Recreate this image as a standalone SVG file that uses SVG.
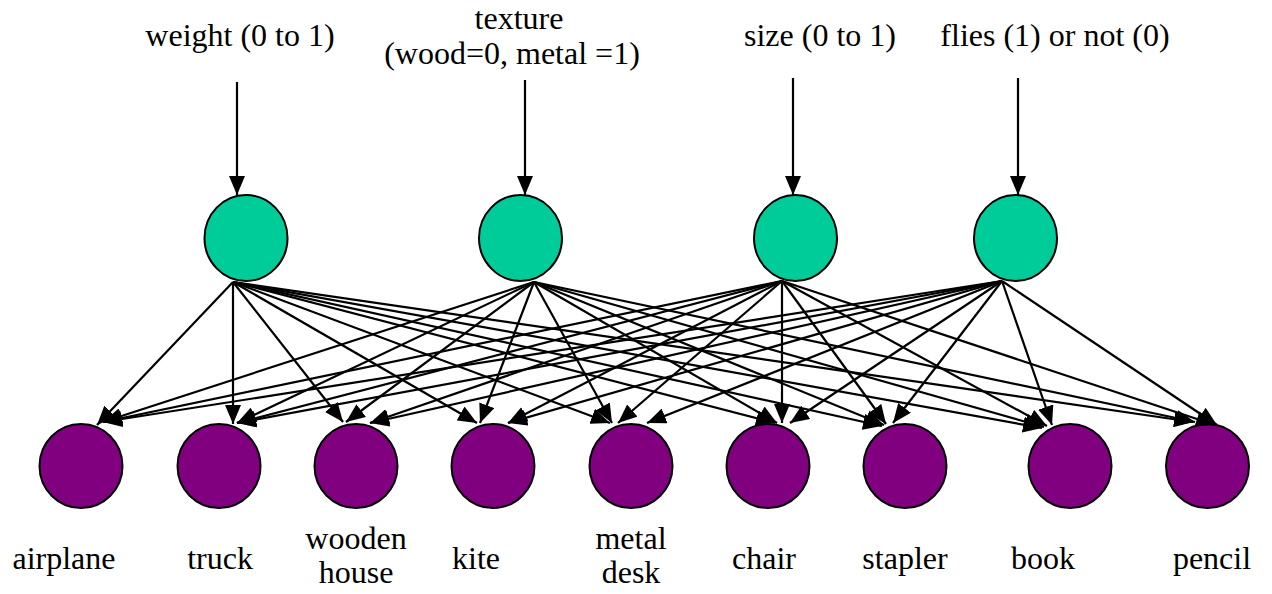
<svg xmlns="http://www.w3.org/2000/svg" width="1272" height="594" viewBox="0 0 1272 594">
<style>
.lbl{font-family:"Liberation Serif","Times New Roman",serif;font-size:32px;fill:#000;text-anchor:middle}
.in{fill:#00CC99;stroke:#000;stroke-width:2}
.out{fill:#800080;stroke:#000;stroke-width:2}
.c line{stroke:#000;stroke-width:2.2;marker-end:url(#ah)}
</style>
<defs>
<marker id="ah" markerUnits="userSpaceOnUse" markerWidth="19" markerHeight="16" refX="19" refY="8" orient="auto">
<path d="M0,0 L19,8 L0,16 z" fill="#000"/>
</marker>
</defs>
<rect width="1272" height="594" fill="#fff"/>
<g id="label-weight"><text class="lbl" x="240" y="46">weight (0 to 1)</text></g>
<g id="label-texture"><text class="lbl" x="519" y="29">texture</text><text class="lbl" x="512" y="64">(wood=0, metal =1)</text></g>
<g id="label-size"><text class="lbl" x="820" y="46">size (0 to 1)</text></g>
<g id="label-flies"><text class="lbl" x="1055" y="46">flies (1) or not (0)</text></g>
<g id="in-weight"><ellipse class="in" cx="246" cy="238" rx="41.5" ry="43"/></g>
<g id="in-texture"><ellipse class="in" cx="520.5" cy="238" rx="41.5" ry="43"/></g>
<g id="in-size"><ellipse class="in" cx="795.5" cy="238" rx="41.5" ry="43"/></g>
<g id="in-flies"><ellipse class="in" cx="1015.5" cy="238" rx="41.5" ry="43"/></g>
<g id="out-airplane"><ellipse class="out" cx="81" cy="466" rx="41.5" ry="42"/><text class="lbl" x="64" y="569">airplane</text></g>
<g id="out-truck"><ellipse class="out" cx="219" cy="466" rx="41.5" ry="42"/><text class="lbl" x="220" y="569">truck</text></g>
<g id="out-wooden-house"><ellipse class="out" cx="356" cy="466" rx="41.5" ry="42"/><text class="lbl" x="356" y="549">wooden</text><text class="lbl" x="356" y="583">house</text></g>
<g id="out-kite"><ellipse class="out" cx="493" cy="466" rx="41.5" ry="42"/><text class="lbl" x="476" y="569">kite</text></g>
<g id="out-metal-desk"><ellipse class="out" cx="631" cy="466" rx="41.5" ry="42"/><text class="lbl" x="631" y="549">metal</text><text class="lbl" x="631" y="583">desk</text></g>
<g id="out-chair"><ellipse class="out" cx="768" cy="466" rx="41.5" ry="42"/><text class="lbl" x="764" y="569">chair</text></g>
<g id="out-stapler"><ellipse class="out" cx="905" cy="466" rx="41.5" ry="42"/><text class="lbl" x="905" y="569">stapler</text></g>
<g id="out-book"><ellipse class="out" cx="1070" cy="466" rx="41.5" ry="42"/><text class="lbl" x="1043" y="569">book</text></g>
<g id="out-pencil"><ellipse class="out" cx="1207.5" cy="466" rx="41.5" ry="42"/><text class="lbl" x="1212" y="569">pencil</text></g>
<g id="connectors" class="c">
<line x1="237" y1="82" x2="237" y2="195"/>
<line x1="525" y1="80" x2="525" y2="195"/>
<line x1="793" y1="78" x2="793" y2="195"/>
<line x1="1018" y1="78" x2="1018" y2="195"/>
<line x1="233" y1="282" x2="97" y2="425"/>
<line x1="534" y1="282" x2="103" y2="422"/>
<line x1="782" y1="281" x2="103" y2="422"/>
<line x1="1002" y1="281" x2="103" y2="422"/>
<line x1="233" y1="282" x2="233" y2="424"/>
<line x1="534" y1="282" x2="237" y2="423"/>
<line x1="782" y1="281" x2="237" y2="423"/>
<line x1="1002" y1="281" x2="237" y2="423"/>
<line x1="233" y1="282" x2="343" y2="422"/>
<line x1="534" y1="282" x2="346" y2="422"/>
<line x1="782" y1="281" x2="370" y2="423"/>
<line x1="1002" y1="281" x2="370" y2="423"/>
<line x1="233" y1="282" x2="477" y2="423"/>
<line x1="534" y1="282" x2="480" y2="423"/>
<line x1="782" y1="281" x2="508" y2="423"/>
<line x1="1002" y1="281" x2="508" y2="423"/>
<line x1="233" y1="282" x2="610" y2="423"/>
<line x1="534" y1="282" x2="612" y2="423"/>
<line x1="782" y1="281" x2="618" y2="423"/>
<line x1="1002" y1="281" x2="647" y2="423"/>
<line x1="233" y1="282" x2="775" y2="423"/>
<line x1="534" y1="282" x2="777" y2="423"/>
<line x1="782" y1="281" x2="782" y2="423"/>
<line x1="1002" y1="281" x2="790" y2="423"/>
<line x1="233" y1="282" x2="882" y2="426"/>
<line x1="534" y1="282" x2="884" y2="425"/>
<line x1="782" y1="281" x2="886" y2="424"/>
<line x1="1002" y1="281" x2="893" y2="423"/>
<line x1="233" y1="282" x2="1042" y2="428"/>
<line x1="534" y1="282" x2="1044" y2="427"/>
<line x1="782" y1="281" x2="1047" y2="426"/>
<line x1="1002" y1="281" x2="1052" y2="425"/>
<line x1="233" y1="282" x2="1193" y2="422"/>
<line x1="534" y1="282" x2="1195" y2="422"/>
<line x1="782" y1="281" x2="1215" y2="425"/>
<line x1="1002" y1="281" x2="1217" y2="425"/>
</g>
</svg>
